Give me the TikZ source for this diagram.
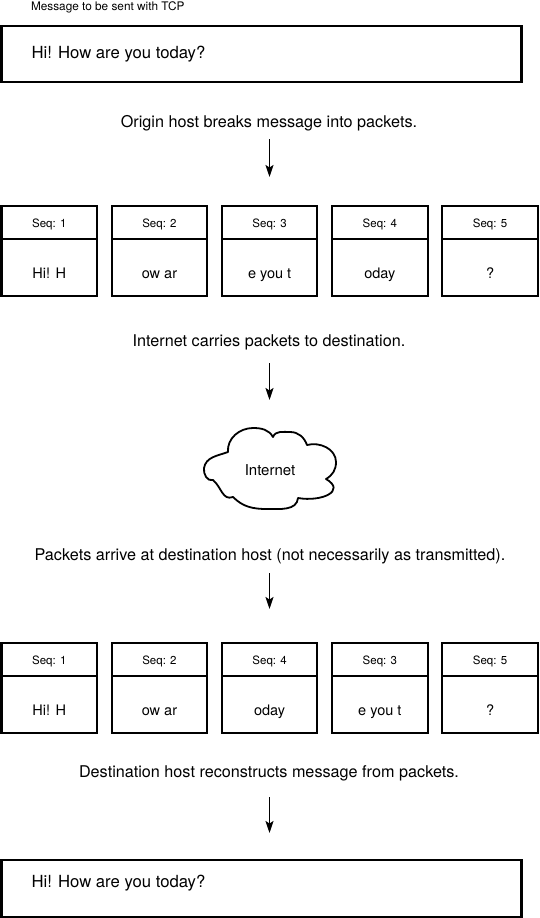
\documentclass[tikz,border=0pt]{standalone}
\usepackage{fontspec}
\setmainfont{TeX Gyre Heros}
\usetikzlibrary{arrows.meta}
\begin{document}
\begin{tikzpicture}[x=1pt,y=1pt,
  every node/.style={inner sep=0pt, outer sep=0pt},
  frame/.style={draw, line width=2.1pt},
  msgbox/.style={frame, anchor=north west, minimum width=520pt, minimum height=56pt},
  seqbox/.style={frame, anchor=north west, minimum width=95.5pt, minimum height=33pt},
  databox/.style={frame, anchor=north west, minimum width=95.5pt, minimum height=57pt},
  captxt/.style={anchor=base, font=\fontsize{16.2}{19}\selectfont},
  msgtxt/.style={anchor=base west, font=\fontsize{16.7}{20}\selectfont},
  seqtxt/.style={anchor=base, font=\fontsize{11.5}{13}\selectfont},
  datatxt/.style={anchor=base, font=\fontsize{14.5}{17}\selectfont},
  arr/.style={line width=1.8pt, -{Stealth[length=12pt,width=8pt,inset=2.5pt]}},
]
\useasboundingbox (0,0) rectangle (540,-918);

% top message
\node[anchor=base west, font=\fontsize{11.8}{13}\selectfont] (title) at (31,-10) {Message to be sent with TCP};
\node[msgbox] (msgA) at (1.5,-26) {};
\node[msgtxt] (msgAt) at (31.5,-58) {Hi! How are you today?};

\node[captxt] (cap1) at (269,-127) {Origin host breaks message into packets.};
\coordinate (a1s) at (269.5,-139);
\coordinate (a1e) at (269.5,-177);
\draw[arr] (a1s) -- (a1e);

% packets row 1
\foreach \s/\d [count=\k] in {1/Hi! H, 2/ow ar, 3/e you t, 4/oday, 5/?} {
  \pgfmathsetmacro\lx{1.5+110.2*(\k-1)}
  \pgfmathsetmacro\cx{\lx+47.75}
  \node[seqbox] (pa\k) at (\lx,-206) {};
  \node[databox] (pb\k) at (\lx,-239) {};
  \node[seqtxt] (pat\k) at (\cx,-227.7) {Seq: \s};
  \node[datatxt] (pbt\k) at (\cx,-278.3) {\d};
}

\node[captxt] (cap2) at (269,-346) {Internet carries packets to destination.};
\coordinate (a2s) at (269.5,-363);
\coordinate (a2e) at (269.5,-400);
\draw[arr] (a2s) -- (a2e);

% cloud
\draw[line width=1.8pt, line join=round]
  (204,-468) to[out=80,in=200] (228,-452)
  to[out=95,in=180] (253,-428) to[out=0,in=120] (273,-437)
  to[out=70,in=180] (290,-432) to[out=0,in=110] (307,-445)
  to[out=15,in=90] (336,-462) to[out=-90,in=30] (326,-479)
  to[out=-30,in=-10,looseness=1.8] (298,-498)
  to[out=-95,in=0] (267,-509) to[out=180,in=-45] (233,-497)
  to[out=200,in=-40,looseness=1.1] (213,-480)
  to[out=200,in=-100] cycle;
\node[anchor=base, font=\fontsize{15}{18}\selectfont] (net) at (270,-475) {Internet};

\node[captxt] (cap3) at (270,-560) {Packets arrive at destination host (not necessarily as transmitted).};
\coordinate (a3s) at (269.5,-573);
\coordinate (a3e) at (269.5,-609);
\draw[arr] (a3s) -- (a3e);

% packets row 2
\foreach \s/\d [count=\k] in {1/Hi! H, 2/ow ar, 4/oday, 3/e you t, 5/?} {
  \pgfmathsetmacro\lx{1.5+110.2*(\k-1)}
  \pgfmathsetmacro\cx{\lx+47.75}
  \node[seqbox] (qa\k) at (\lx,-643) {};
  \node[databox] (qb\k) at (\lx,-676) {};
  \node[seqtxt] (qat\k) at (\cx,-664.7) {Seq: \s};
  \node[datatxt] (qbt\k) at (\cx,-715.3) {\d};
}

\node[captxt] (cap4) at (269,-777) {Destination host reconstructs message from packets.};
\coordinate (a4s) at (269.5,-797);
\coordinate (a4e) at (269.5,-833);
\draw[arr] (a4s) -- (a4e);

% bottom message
\node[msgbox, minimum height=57pt] (msgB) at (1.5,-860) {};
\node[msgtxt] (msgBt) at (31.5,-887) {Hi! How are you today?};
\end{tikzpicture}
\end{document}
